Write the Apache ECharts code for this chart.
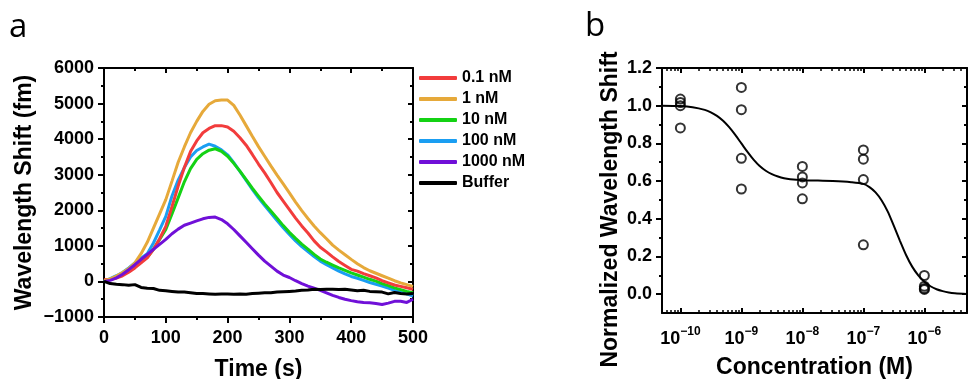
<!DOCTYPE html>
<html><head><meta charset="utf-8">
<script src="https://cdn.jsdelivr.net/npm/echarts@6/dist/echarts.min.js"></script>
<style>html,body{margin:0;padding:0;background:#fff}#c{width:968px;height:379px}</style>
</head><body><div id="c"></div>
<script>
// ---------- Panel a data ----------
const timeS = [0,10,20,30,40,50,60,70,80,90,100,110,120,130,140,150,160,170,180,190,200,210,220,230,240,250,260,270,280,290,300,310,320,330,340,350,360,370,380,390,400,410,420,430,440,450,460,470,480,490,500];
const shift01nM = [50,60,90,160,260,380,520,660,900,1200,1550,2100,2680,3200,3650,3950,4180,4300,4380,4380,4340,4220,4040,3830,3570,3300,3050,2780,2500,2260,2020,1780,1560,1360,1140,960,830,690,560,450,340,290,220,160,100,20,-40,-100,-140,-180,-220];
const shift1nM = [20,70,150,250,360,520,780,1100,1500,1900,2300,2820,3350,3780,4180,4500,4780,4980,5080,5100,5100,4950,4680,4380,4080,3790,3520,3250,2990,2740,2490,2230,1990,1770,1560,1370,1200,1020,880,750,620,500,390,300,230,160,90,20,-40,-90,-140];
const shift10nM = [0,60,130,220,330,440,560,680,900,1180,1460,1900,2350,2800,3170,3430,3590,3690,3730,3660,3520,3320,3100,2860,2620,2400,2180,1980,1780,1570,1380,1210,1050,910,760,630,540,460,380,310,240,180,120,60,10,-60,-120,-180,-230,-280,-320];
const shift100nM = [0,80,160,250,380,520,650,780,1080,1450,1830,2400,2850,3200,3500,3680,3780,3860,3800,3700,3560,3340,3090,2840,2590,2350,2130,1920,1710,1510,1320,1140,980,840,700,570,470,380,290,210,140,90,30,-30,-80,-130,-190,-250,-300,-350,-410];
const shift1000nM = [0,30,100,200,330,470,620,760,900,1040,1180,1340,1470,1580,1640,1700,1760,1800,1810,1740,1620,1460,1280,1100,920,740,570,430,290,180,110,20,-60,-130,-190,-250,-320,-390,-450,-500,-540,-570,-590,-600,-620,-650,-610,-560,-560,-590,-500];
const shiftBuffer = [0,-60,-80,-90,-110,-90,-170,-190,-200,-250,-260,-280,-300,-300,-320,-340,-340,-350,-360,-350,-350,-360,-350,-360,-340,-330,-320,-320,-300,-290,-280,-270,-250,-240,-220,-230,-220,-220,-230,-220,-240,-260,-250,-280,-290,-300,-350,-310,-340,-350,-340];
const seriesNames = ['0.1 nM','1 nM','10 nM','100 nM','1000 nM','Buffer'];
const seriesColors = ['#f23c3c','#e6a93a','#14d214','#1a9ef2','#7010d8','#000000'];

// ---------- Panel b data ----------
const scatterConc = [1e-10,1e-10,1e-10,1e-10, 1e-9,1e-9,1e-9,1e-9, 1e-8,1e-8,1e-8,1e-8, 1e-7,1e-7,1e-7,1e-7, 1e-6,1e-6,1e-6,1e-6];
const scatterVal  = [1.035,1.017,1.0,0.882, 1.097,0.979,0.721,0.558, 0.678,0.622,0.590,0.506, 0.765,0.716,0.608,0.262, 0.099,0.042,0.030,0.025];
const fitConc = [5e-11,1e-10,1.585e-10,2.512e-10,3.162e-10,3.981e-10,5.012e-10,6.31e-10,7.943e-10,1e-9,1.259e-9,1.585e-9,1.995e-9,2.512e-9,3.162e-9,3.981e-9,5.012e-9,6.31e-9,1e-8,3.162e-8,6.31e-8,1e-7,1.259e-7,1.585e-7,1.995e-7,2.512e-7,3.162e-7,3.981e-7,5.012e-7,6.31e-7,7.943e-7,1e-6,1.259e-6,1.585e-6,1.995e-6,2.512e-6,3.162e-6,5e-6];
const fitVal  = [1.0,0.998,0.992,0.978,0.965,0.946,0.92,0.886,0.845,0.80,0.755,0.714,0.68,0.655,0.637,0.624,0.615,0.61,0.605,0.600,0.594,0.585,0.568,0.540,0.497,0.438,0.362,0.283,0.208,0.146,0.100,0.066,0.042,0.026,0.016,0.009,0.005,0.001];
const concMajorTicks = [1e-10,1e-9,1e-8,1e-7,1e-6];
const decades = [1e-11,1e-10,1e-9,1e-8,1e-7,1e-6];
const minorMult = [2,3,4,5,6,7,8,9];
const normMajorTicks = [0,0.2,0.4,0.6,0.8,1.0,1.2];
const normMinorTicks = [0.1,0.3,0.5,0.7,0.9,1.1];

const concMin = 5e-11, concMax = 5e-6;
const concMinorTicks = [];
decades.forEach(d => minorMult.forEach(m => { const v = d*m; if (v > concMin && v < concMax) concMinorTicks.push(v); }));

const FONT = '"Liberation Sans", Arial, sans-serif';
const BLACK = '#000';
const lbl = () => ({color: BLACK, fontFamily: FONT, fontWeight: 'bold', fontSize: 18});
const nameStyle = () => ({color: BLACK, fontFamily: FONT, fontWeight: 'bold', fontSize: 23});
const axLine = () => ({show: true, onZero: false, lineStyle: {color: BLACK, width: 2}});
const noLine = () => ({show: false, onZero: false});
const tick = (len, inside, extra) => Object.assign({show: true, inside: inside, length: len, lineStyle: {color: BLACK, width: 2}}, extra || {});

const seriesData = [shift01nM, shift1nM, shift10nM, shift100nM, shift1000nM, shiftBuffer];
const drawOrder = [3, 2, 0, 1, 4, 5];
const lineSeries = drawOrder.map(i => ({
  name: seriesNames[i], type: 'line', xAxisIndex: 0, yAxisIndex: 0,
  data: timeS.map((t, k) => [t, seriesData[i][k]]),
  showSymbol: false, symbol: 'none', color: seriesColors[i],
  lineStyle: {width: 3, color: seriesColors[i]}
}));
const frameCarriers = [[1, 1], [3, 3], [4, 4], [5, 5]].map(p => ({
  type: 'line', xAxisIndex: p[0], yAxisIndex: p[1], data: [], silent: true, symbol: 'none'
}));

function supLabel(v) {
  const e = Math.round(Math.log10(v));
  return '{b|10}{s|\u2212' + Math.abs(e) + '}';
}

const chart = echarts.init(document.getElementById('c'), null, {renderer: 'canvas'});
chart.setOption({
  animation: false,
  backgroundColor: '#fff',
  grid: [
    {left: 104, top: 68, width: 309, height: 249, outerBoundsMode: 'none', containLabel: false},
    {left: 662, top: 68, width: 305, height: 245, outerBoundsMode: 'none', containLabel: false}
  ],
  legend: {
    data: seriesNames, orient: 'vertical', left: 414, top: 63,
    icon: 'roundRect', itemWidth: 38, itemHeight: 4, itemGap: 1,
    textStyle: {color: BLACK, fontFamily: FONT, fontWeight: 'bold', fontSize: 16, lineHeight: 20}
  },
  graphic: [
    {type: 'text', left: 9, top: 11, style: {text: 'a', fontFamily: '"Open Sans", sans-serif', fontSize: 33, fill: BLACK}},
    {type: 'text', left: 585, top: 10, style: {text: 'b', fontFamily: '"Open Sans", sans-serif', fontSize: 33, fill: BLACK}}
  ],
  xAxis: [
    {gridIndex: 0, type: 'value', position: 'bottom', min: 0, max: 500, interval: 100,
     axisLine: axLine(), axisTick: tick(6, false),
     minorTick: {show: true, splitNumber: 2, length: 3, lineStyle: {color: BLACK, width: 2}},
     splitLine: {show: false}, axisLabel: Object.assign({margin: 12}, lbl()),
     name: 'Time (s)', nameLocation: 'middle', nameGap: 41, nameTextStyle: nameStyle()},
    {gridIndex: 0, type: 'value', position: 'top', min: 0, max: 500, interval: 100,
     axisLine: axLine(), axisTick: tick(5, true),
     minorTick: {show: true, splitNumber: 2, length: 3, lineStyle: {color: BLACK, width: 2}},
     splitLine: {show: false}, axisLabel: {show: false}},
    {gridIndex: 1, type: 'log', logBase: 10, position: 'bottom', min: concMin, max: concMax,
     axisLine: axLine(), axisTick: tick(5, true, {customValues: concMajorTicks}),
     splitLine: {show: false},
     axisLabel: {show: true, customValues: concMajorTicks, margin: 13, formatter: supLabel,
       rich: {b: {color: BLACK, fontFamily: FONT, fontWeight: 'bold', fontSize: 18, lineHeight: 22, verticalAlign: 'bottom'},
              s: {color: BLACK, fontFamily: FONT, fontWeight: 'bold', fontSize: 12, lineHeight: 12, verticalAlign: 'top'}}},
     name: 'Concentration (M)', nameLocation: 'middle', nameGap: 43, nameTextStyle: nameStyle()},
    {gridIndex: 1, type: 'log', logBase: 10, position: 'bottom', min: concMin, max: concMax,
     axisLine: noLine(), axisTick: tick(3, true, {customValues: concMinorTicks, lineStyle: {color: BLACK, width: 1.5}}),
     splitLine: {show: false}, axisLabel: {show: false}},
    {gridIndex: 1, type: 'log', logBase: 10, position: 'top', min: concMin, max: concMax,
     axisLine: axLine(), axisTick: tick(5, true, {customValues: concMajorTicks}),
     splitLine: {show: false}, axisLabel: {show: false}},
    {gridIndex: 1, type: 'log', logBase: 10, position: 'top', min: concMin, max: concMax,
     axisLine: noLine(), axisTick: tick(3, true, {customValues: concMinorTicks, lineStyle: {color: BLACK, width: 1.5}}),
     splitLine: {show: false}, axisLabel: {show: false}}
  ],
  yAxis: [
    {gridIndex: 0, type: 'value', position: 'left', min: -1000, max: 6000, interval: 1000,
     axisLine: axLine(), axisTick: tick(6, false),
     minorTick: {show: true, splitNumber: 2, length: 3, lineStyle: {color: BLACK, width: 2}},
     splitLine: {show: false}, axisLabel: Object.assign({margin: 10, formatter: v => v < 0 ? '\u2212' + Math.abs(v) : String(v)}, lbl()),
     name: 'Wavelength Shift (fm)', nameLocation: 'middle', nameGap: 68, nameTextStyle: nameStyle()},
    {gridIndex: 0, type: 'value', position: 'right', min: -1000, max: 6000, interval: 1000,
     axisLine: axLine(), axisTick: tick(5, true),
     minorTick: {show: true, splitNumber: 2, length: 3, lineStyle: {color: BLACK, width: 2}},
     splitLine: {show: false}, axisLabel: {show: false}},
    {gridIndex: 1, type: 'value', position: 'left', min: -0.1, max: 1.2,
     axisLine: axLine(), axisTick: tick(6, false, {customValues: normMajorTicks}),
     splitLine: {show: false},
     axisLabel: Object.assign({margin: 10, customValues: normMajorTicks, formatter: v => v.toFixed(1)}, lbl()),
     name: 'Normalized Wavelength Shift', nameLocation: 'middle', nameGap: 40,
     nameTextStyle: Object.assign({padding: [0, 38, 0, 0]}, nameStyle())},
    {gridIndex: 1, type: 'value', position: 'left', min: -0.1, max: 1.2,
     axisLine: noLine(), axisTick: tick(3, false, {customValues: normMinorTicks}),
     splitLine: {show: false}, axisLabel: {show: false}},
    {gridIndex: 1, type: 'value', position: 'right', min: -0.1, max: 1.2,
     axisLine: axLine(), axisTick: tick(5, true, {customValues: normMajorTicks}),
     splitLine: {show: false}, axisLabel: {show: false}},
    {gridIndex: 1, type: 'value', position: 'right', min: -0.1, max: 1.2,
     axisLine: noLine(), axisTick: tick(3, true, {customValues: normMinorTicks}),
     splitLine: {show: false}, axisLabel: {show: false}}
  ],
  series: lineSeries.concat([
    {name: 'fit', type: 'line', xAxisIndex: 2, yAxisIndex: 2,
     data: fitConc.map((c, k) => [c, fitVal[k]]),
     smooth: 0.3, showSymbol: false, symbol: 'none',
     lineStyle: {color: BLACK, width: 2}, color: BLACK},
    {name: 'data', type: 'scatter', xAxisIndex: 2, yAxisIndex: 2,
     data: scatterConc.map((c, k) => [c, scatterVal[k]]),
     symbol: 'circle', symbolSize: 9,
     itemStyle: {color: 'rgba(255,255,255,0)', borderColor: BLACK, borderWidth: 2}}
  ], frameCarriers)
});
</script>
</body></html>
